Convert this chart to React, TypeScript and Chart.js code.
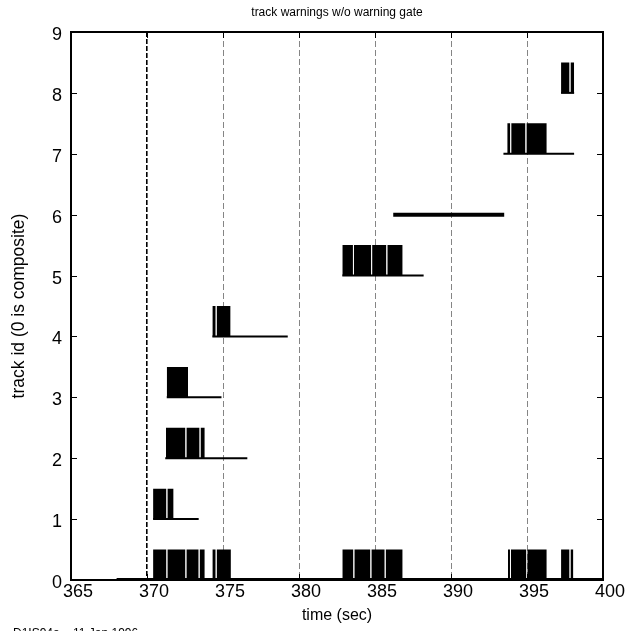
import React, { useEffect, useRef } from "react";
import { Chart, registerables } from "chart.js";

Chart.register(...registerables);

// ---- axes ----
const X_MIN = 365;
const X_MAX = 400;
const Y_MIN = 0;
const Y_MAX = 9;
const xTicks = [365, 370, 375, 380, 385, 390, 395, 400];
const yTicks = [0, 1, 2, 3, 4, 5, 6, 7, 8, 9];
const gateTime = 370; // warning gate (black dashed line)
const warningHeight = 0.5; // warning flag adds 0.5 to the track id

// ---- horizontal track lines ----
const lineTrack = [0, 1, 2, 3, 4, 5, 6, 7, 8];
const lineStart = [368.0, 370.4, 371.2, 371.3, 374.3, 382.85, 386.2, 393.45, 397.24];
const lineEnd = [400.0, 373.4, 376.6, 374.9, 379.26, 388.2, 393.5, 398.1, 398.1];

// ---- warning blocks (dense on/off toggling), [start, end] sec per track ----
const track0Blocks = [
  [370.4, 371.28], [371.34, 372.53], [372.59, 373.4], [373.46, 373.8],
  [374.3, 374.52], [374.58, 375.52],
  [382.85, 383.58], [383.64, 384.7], [384.76, 385.64], [385.7, 386.82],
  [393.75, 393.88], [393.94, 394.96], [395.02, 396.3],
  [397.24, 397.8], [397.86, 398.05],
];
const track1Blocks = [[370.4, 371.28], [371.34, 371.75]];
const track2Blocks = [[371.25, 372.53], [372.59, 373.46], [373.52, 373.8]];
const track3Blocks = [[371.3, 372.7]];
const track4Blocks = [[374.3, 374.52], [374.58, 375.5]];
const track5Blocks = [[382.85, 383.55], [383.61, 384.75], [384.81, 385.75], [385.81, 386.82]];
const track7Blocks = [[393.7, 393.9], [393.96, 394.9], [394.96, 396.3]];
const track8Blocks = [[397.24, 397.8], [397.86, 398.1]];

const blocksByTrack: [number, number[][]][] = [
  [0, track0Blocks],
  [1, track1Blocks],
  [2, track2Blocks],
  [3, track3Blocks],
  [4, track4Blocks],
  [5, track5Blocks],
  [7, track7Blocks],
  [8, track8Blocks],
];

const FONT = "'Liberation Sans', Arial, Helvetica, sans-serif";

const framePlugin = {
  id: "matlabFrame",
  afterDraw(chart: any) {
    const { ctx, chartArea, scales } = chart;
    const { left, right, top, bottom } = chartArea;
    const x = scales.x;
    const y = scales.y;
    ctx.save();
    ctx.strokeStyle = "#000";
    ctx.lineWidth = 1;
    ctx.beginPath();
    for (const v of xTicks) {
      const px = Math.round(x.getPixelForValue(v)) + 0.5;
      ctx.moveTo(px, bottom);
      ctx.lineTo(px, bottom - 6);
      ctx.moveTo(px, top);
      ctx.lineTo(px, top + 6);
    }
    for (const v of yTicks) {
      const py = Math.round(y.getPixelForValue(v)) + 0.5;
      ctx.moveTo(left, py);
      ctx.lineTo(left + 6, py);
      ctx.moveTo(right, py);
      ctx.lineTo(right - 6, py);
    }
    ctx.stroke();
    ctx.lineWidth = 2;
    ctx.strokeRect(left, top, right - left, bottom - top);
    ctx.restore();
  },
};

export default function App() {
  const canvasRef = useRef<HTMLCanvasElement | null>(null);

  useEffect(() => {
    const canvas = canvasRef.current;
    if (!canvas) return;

    const datasets: any[] = [];

    blocksByTrack.forEach(([track, blocks]) => {
      blocks.forEach(([s, e]) => {
        datasets.push({
          label: `track ${track} warning`,
          data: [
            { x: s, y: track },
            { x: s, y: track + warningHeight },
            { x: e, y: track + warningHeight },
            { x: e, y: track },
          ],
          borderColor: "rgba(0,0,0,0)",
          borderWidth: 0,
          backgroundColor: "#000",
          fill: { value: track },
          pointRadius: 0,
          tension: 0,
        });
      });
    });

    lineTrack.forEach((track, i) => {
      datasets.push({
        label: `track ${track}`,
        data: [
          { x: lineStart[i], y: track },
          { x: lineEnd[i], y: track },
        ],
        borderColor: "#000",
        borderWidth: track === 0 || track === 6 ? 4 : 2,
        backgroundColor: "#000",
        fill: false,
        pointRadius: 0,
        tension: 0,
      });
    });

    const chart = new Chart(canvas, {
      type: "line",
      data: { datasets },
      plugins: [framePlugin],
      options: {
        animation: false,
        responsive: false,
        layout: { padding: { left: 0, right: 23, top: 0, bottom: 0 } },
        plugins: {
          legend: { display: false },
          tooltip: { enabled: false },
          title: {
            display: true,
            text: "track warnings w/o warning gate",
            color: "#000",
            fullSize: false,
            font: { family: FONT, size: 12, weight: "normal" },
            padding: { top: 5, bottom: 12.6 },
          },
        },
        scales: {
          x: {
            type: "linear",
            min: X_MIN,
            max: X_MAX,
            afterBuildTicks: (scale: any) => {
              scale.ticks = xTicks.map((v) => ({ value: v }));
            },
            afterFit: (scale: any) => {
              scale.height = 51;
            },
            ticks: {
              color: "#000",
              font: { family: FONT, size: 18 },
              padding: 1,
              labelOffset: 7,
              maxRotation: 0,
              autoSkip: false,
              callback: (v: any) => String(v),
            },
            grid: {
              display: true,
              drawTicks: false,
              color: (ctx: any) => {
                const v = ctx.tick ? ctx.tick.value : null;
                if (v === gateTime) return "#000";
                if (v === X_MIN || v === X_MAX) return "rgba(0,0,0,0)";
                return "#858585";
              },
              lineWidth: (ctx: any) => (ctx.tick && ctx.tick.value === gateTime ? 1.6 : 1),
            },
            border: {
              display: false,
              dash: (ctx: any) => (ctx.tick && ctx.tick.value === gateTime ? [5, 2] : [6, 3]),
            },
            title: {
              display: true,
              text: "time (sec)",
              color: "#000",
              font: { family: FONT, size: 16 },
              padding: { top: 0, bottom: 5.5 },
            },
          },
          y: {
            type: "linear",
            min: Y_MIN,
            max: Y_MAX,
            afterBuildTicks: (scale: any) => {
              scale.ticks = yTicks.map((v) => ({ value: v }));
            },
            afterFit: (scale: any) => {
              scale.width = 71;
            },
            ticks: {
              color: "#000",
              font: { family: FONT, size: 18 },
              padding: 9,
              labelOffset: 3,
              autoSkip: false,
              callback: (v: any) => String(v),
            },
            grid: { display: false, drawTicks: false },
            border: { display: false },
            title: {
              display: true,
              text: "track id (0 is composite)",
              color: "#000",
              font: { family: FONT, size: 17.5 },
              padding: { top: 9, bottom: 0 },
            },
          },
        },
      },
    });

    return () => chart.destroy();
  }, []);

  return (
    <div
      style={{
        position: "absolute",
        left: 0,
        top: 0,
        width: 626,
        height: 631,
        overflow: "hidden",
        background: "#fff",
      }}
    >
      <canvas ref={canvasRef} width={626} height={631} style={{ display: "block" }} />
      <div
        style={{
          position: "absolute",
          left: 13,
          top: 626,
          fontFamily: FONT,
          fontSize: 12,
          color: "#000",
          whiteSpace: "pre",
        }}
      >
        D1IS94a    11 Jan 1996
      </div>
    </div>
  );
}
